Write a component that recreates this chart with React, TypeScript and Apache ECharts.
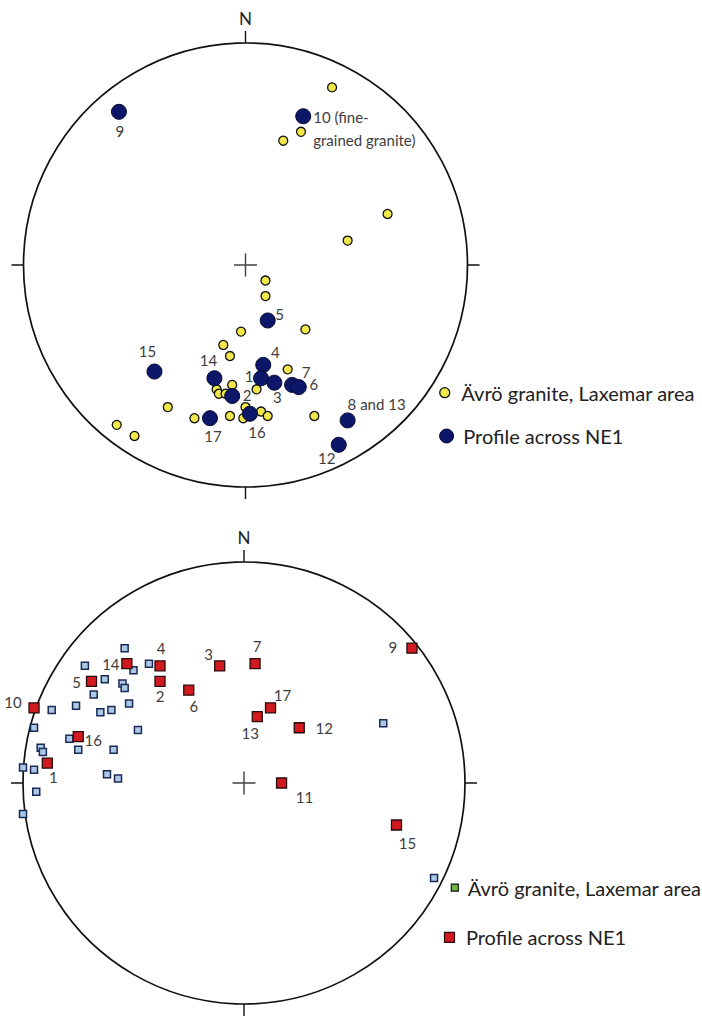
import React, { useEffect, useRef } from 'react';
import * as echarts from 'echarts';

const AVRO = 'Ävrö granite, Laxemar area';
const PROFILE = 'Profile across NE1';
const NOTE10 = '10 (fine-\ngrained granite)';

// ---------- Upper stereonet (circles), unit-circle coordinates ----------
const topAvroX = [0.39, 0.25, 0.17, 0.64, 0.46, 0.09, 0.09, 0.27, -0.02, -0.10, -0.07, 0.19, -0.06, -0.13, -0.12, -0.09, 0.05, -0.35, 0.00, 0.07, 0.10, -0.23, -0.07, -0.01, 0.31, -0.58, -0.50];
const topAvroY = [0.80, 0.60, 0.56, 0.23, 0.11, -0.07, -0.14, -0.29, -0.30, -0.36, -0.41, -0.47, -0.54, -0.56, -0.58, -0.58, -0.56, -0.64, -0.64, -0.66, -0.68, -0.69, -0.68, -0.69, -0.68, -0.72, -0.77];

const topProfileNames = ['9', NOTE10, '5', '15', '4', '14', '1', '3', '7', '6', '2', '17', '16', '8 and 13', '12'];
const topProfileX = [-0.57, 0.26, 0.10, -0.41, 0.08, -0.14, 0.07, 0.13, 0.21, 0.24, -0.06, -0.16, 0.02, 0.46, 0.42];
const topProfileY = [0.69, 0.67, -0.25, -0.48, -0.45, -0.51, -0.51, -0.53, -0.54, -0.55, -0.59, -0.69, -0.67, -0.70, -0.81];

// ---------- Lower stereonet (squares) ----------
const botAvroX = [-0.54, -0.72, -0.50, -0.43, -0.63, -0.55, -0.54, -0.68, -0.52, -0.76, -0.87, -0.65, -0.60, -0.48, -0.95, -0.79, -0.75, -0.59, -0.92, -0.91, -1.00, -0.95, -0.62, -0.57, -0.94, -1.00, 0.63, 0.86];
const botAvroY = [0.61, 0.53, 0.51, 0.54, 0.47, 0.45, 0.43, 0.40, 0.36, 0.35, 0.33, 0.32, 0.33, 0.24, 0.25, 0.20, 0.15, 0.15, 0.16, 0.14, 0.07, 0.06, 0.04, 0.02, -0.04, -0.14, 0.27, -0.43];

const botProfileNames = ['1', '2', '3', '4', '5', '6', '7', '9', '10', '11', '12', '13', '14', '15', '16', '17'];
const botProfileX = [-0.89, -0.38, -0.11, -0.38, -0.69, -0.25, 0.05, 0.76, -0.95, 0.17, 0.25, 0.06, -0.53, 0.69, -0.75, 0.12];
const botProfileY = [0.09, 0.46, 0.53, 0.53, 0.46, 0.42, 0.54, 0.61, 0.34, 0.00, 0.25, 0.30, 0.54, -0.19, 0.21, 0.34];

const centerMark = [[0, 0]];
const compassLabels = ['N'];

// ---------- label placement (styling, px offsets from the mark) ----------
const topLabelOffsets: Record<string, number[]> = {
  '9': [1, 19], [NOTE10]: [10, 12], '5': [12, -7], '15': [-7, -21], '4': [12, -13],
  '14': [-6, -18], '1': [-12, -2], '3': [3, 14], '7': [14, -13], '6': [15, -3],
  '2': [15, -1], '17': [3, 18], '16': [7, 18], '8 and 13': [29, -16], '12': [-12, 13],
};
const botLabelOffsets: Record<string, number[]> = {
  '1': [6, 14], '2': [0, 15], '3': [-11, -12], '4': [1, -18], '5': [-15, 1], '6': [5, 16],
  '7': [2, -18], '9': [-19, -1], '10': [-21, -6], '11': [23, 14], '12': [25, 0], '13': [-7, 16],
  '14': [-16, 0], '15': [11, 18], '16': [15, 3], '17': [12, -13],
};

// ---------- layout ----------
const NETS = [
  { cx: 245.5, cy: 265, r: 222 },
  { cx: 244, cy: 783, r: 221 },
];

const FONT = 'Lato, "Open Sans", sans-serif';
const LABEL_COLOR = '#3d3d3d';
const YELLOW = '#f2e84c';
const NAVY = '#0c176a';
const RED = '#d11a20';
const LIGHTBLUE = '#abc8e6';
const GREEN = '#74b545';
const SQUARE = 'path://M0 0H10V10H0Z';
const DOT = 'path://M10 5A5 5 0 1 1 0 5A5 5 0 1 1 10 5Z';
const LEGEND_SHIFT = 5;

function pts(xs: number[], ys: number[]) {
  return xs.map((x, i) => [x, ys[i]]);
}
function labeled(names: string[], xs: number[], ys: number[], offs: Record<string, number[]>) {
  return names.map((n, i) => ({
    name: n,
    value: [xs[i], ys[i]],
    label: n === NOTE10
      ? { offset: offs[n], align: 'left', lineHeight: 23 }
      : { offset: offs[n] || [0, 0] },
  }));
}

function buildOption() {
  const polar = NETS.map((n) => ({ center: [n.cx, n.cy], radius: n.r }));
  const angleAxis = NETS.map((_, i) => ({
    polarIndex: i,
    type: 'value',
    min: 0,
    max: 360,
    interval: 90,
    startAngle: 90,
    clockwise: true,
    axisLine: { show: true, lineStyle: { color: '#111', width: 1.7 } },
    axisTick: { show: true, length: 12, lineStyle: { color: '#111', width: 1.4 } },
    splitLine: { show: false },
    axisLabel: {
      show: true,
      margin: 16,
      fontFamily: FONT,
      fontSize: 17,
      color: '#222',
      formatter: (v: number) => (v === 0 ? compassLabels[0] : ''),
    },
  }));
  const radiusAxis = NETS.map((_, i) => ({ polarIndex: i, min: 0, max: 1, show: false }));
  const grid = NETS.map((n) => ({ left: n.cx - n.r, top: n.cy - n.r, width: 2 * n.r, height: 2 * n.r }));
  const xAxis = NETS.map((_, i) => ({ gridIndex: i, type: 'value', min: -1, max: 1, show: false }));
  const yAxis = NETS.map((_, i) => ({ gridIndex: i, type: 'value', min: -1, max: 1, show: false }));

  const numberLabel = {
    show: true,
    position: 'inside',
    formatter: '{b}',
    color: LABEL_COLOR,
    fontFamily: FONT,
    fontSize: 15,
  };

  const crossSeries = (i: number) => ({
    type: 'scatter',
    xAxisIndex: i,
    yAxisIndex: i,
    data: centerMark,
    symbol: 'path://M10 0 L10 20 M0 10 L20 10',
    symbolSize: 23,
    silent: true,
    itemStyle: { color: 'transparent', borderColor: '#111', borderWidth: 1.4 },
    z: 1,
  });

  const series = [
    crossSeries(0),
    {
      type: 'scatter',
      name: AVRO,
      xAxisIndex: 0,
      yAxisIndex: 0,
      data: pts(topAvroX, topAvroY),
      symbol: 'circle',
      symbolSize: 9,
      silent: true,
      itemStyle: { color: YELLOW, borderColor: '#111', borderWidth: 1.3, opacity: 1 },
      z: 2,
    },
    {
      type: 'scatter',
      name: PROFILE,
      xAxisIndex: 0,
      yAxisIndex: 0,
      data: labeled(topProfileNames, topProfileX, topProfileY, topLabelOffsets),
      symbol: 'circle',
      symbolSize: 15,
      silent: true,
      itemStyle: { color: NAVY, borderColor: '#050a30', borderWidth: 1, opacity: 1 },
      label: numberLabel,
      z: 3,
    },
    crossSeries(1),
    {
      type: 'scatter',
      name: AVRO + ' ',
      xAxisIndex: 1,
      yAxisIndex: 1,
      data: pts(botAvroX, botAvroY),
      symbol: 'rect',
      symbolSize: 7,
      silent: true,
      itemStyle: { color: LIGHTBLUE, borderColor: '#1b2a55', borderWidth: 1.5, opacity: 1 },
      z: 2,
    },
    {
      type: 'scatter',
      name: PROFILE + ' ',
      xAxisIndex: 1,
      yAxisIndex: 1,
      data: labeled(botProfileNames, botProfileX, botProfileY, botLabelOffsets),
      symbol: 'rect',
      symbolSize: 10,
      silent: true,
      itemStyle: { color: RED, borderColor: '#2a0a0a', borderWidth: 1.3, opacity: 1 },
      label: numberLabel,
      z: 3,
    },
  ];

  const LH = 24;
  const mkLegend = (name: string, shown: string, icon: string, size: number, cx: number, cy: number, textLeft: number, style: any) => {
    const w = 2 * (textLeft - 5 - cx);
    return {
      left: cx - w / 2 + LEGEND_SHIFT,
      top: cy - LH / 2,
      padding: 0,
      itemWidth: w,
      itemHeight: size,
      symbolKeepAspect: true,
      selectedMode: false,
      formatter: () => shown,
      textStyle: { fontFamily: FONT, fontSize: 20, color: '#222', lineHeight: LH },
      data: [{ name, icon, itemStyle: style }],
    };
  };

  const legend = [
    mkLegend(AVRO, AVRO, DOT, 10, 445.7, 392.7, 462.3, { color: YELLOW, borderColor: '#111', borderWidth: 1.3 }),
    mkLegend(PROFILE, PROFILE, DOT, 14, 445.7, 436, 462.3, { color: NAVY, borderColor: '#050a30', borderWidth: 1 }),
    mkLegend(AVRO + ' ', AVRO, SQUARE, 7, 453.7, 887.7, 466.7, { color: GREEN, borderColor: '#111', borderWidth: 1.2 }),
    mkLegend(PROFILE + ' ', PROFILE, SQUARE, 10, 450.3, 937.3, 466.7, { color: RED, borderColor: '#2a0a0a', borderWidth: 1.2 }),
  ];

  return {
    animation: false,
    backgroundColor: '#ffffff',
    polar,
    angleAxis,
    radiusAxis,
    grid,
    xAxis,
    yAxis,
    legend,
    series,
  };
}

export default function App() {
  const ref = useRef<HTMLDivElement>(null);
  useEffect(() => {
    if (!ref.current) return;
    const chart = echarts.init(ref.current, undefined, { renderer: 'svg' });
    chart.setOption(buildOption() as any);
    return () => chart.dispose();
  }, []);
  return (
    <div
      ref={ref}
      style={{ position: 'absolute', left: 0, top: 0, width: 702, height: 1016, background: '#fff' }}
    />
  );
}
